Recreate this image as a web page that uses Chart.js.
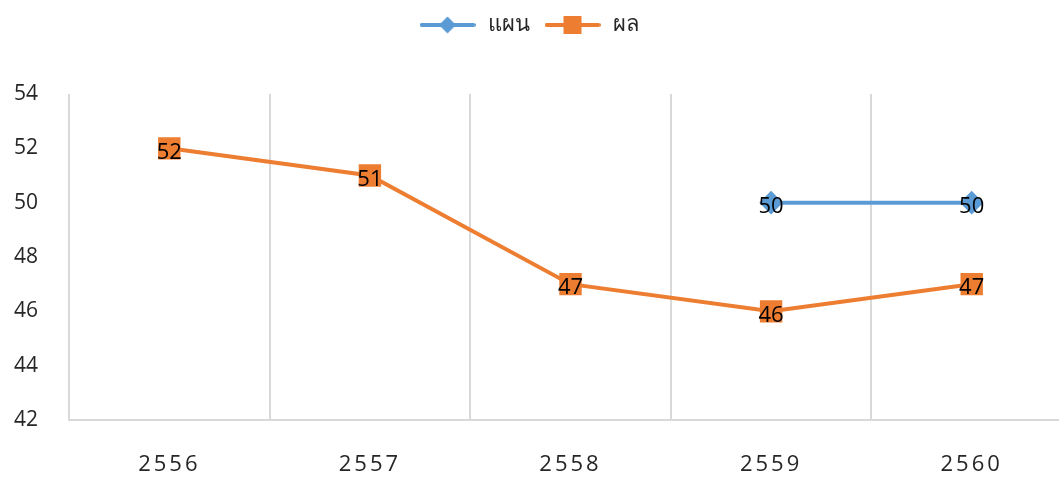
<!DOCTYPE html>
<html><head><meta charset="utf-8">
<script src="https://cdn.jsdelivr.net/npm/chart.js@4/dist/chart.umd.min.js"></script>
<style>html,body{margin:0;padding:0;background:#fff;overflow:hidden}#wrap{width:1059px;height:478px}canvas{display:block}</style>
</head><body><div id="wrap"><canvas id="c" width="1059" height="478"></canvas></div>
<script>
const categories = ['2556', '2557', '2558', '2559', '2560'];
const planValues = [null, null, null, 50, 50];
const resultValues = [52, 51, 47, 46, 47];
const seriesNames = ['แผน', 'ผล'];
const yTicks = [42, 44, 46, 48, 50, 52, 54];

const BLUE = '#5b9bd5', ORANGE = '#ed7d31';
const FONT = "'Open Sans', 'Noto Sans', 'DejaVu Sans', sans-serif";
const PLOT_RIGHT = 1072;

function legendIcon(color, shape) {
  const c = document.createElement('canvas');
  c.width = 56; c.height = 20;
  const x = c.getContext('2d');
  x.strokeStyle = color; x.lineWidth = 4; x.lineCap = 'round';
  x.beginPath(); x.moveTo(2, 10); x.lineTo(54, 10); x.stroke();
  x.fillStyle = color;
  if (shape === 'diamond') {
    x.beginPath(); x.moveTo(28, 1.5); x.lineTo(36.5, 10); x.lineTo(28, 18.5); x.lineTo(19.5, 10); x.closePath(); x.fill();
  } else {
    x.fillRect(19, 1, 18, 18);
  }
  return c;
}
const icons = [legendIcon(BLUE, 'diamond'), legendIcon(ORANGE, 'square')];

const dataLabels = {
  id: 'dataLabels',
  afterDatasetsDraw(chart) {
    const ctx = chart.ctx;
    ctx.save();
    ctx.font = '22px ' + FONT;
    ctx.fillStyle = '#000';
    ctx.textAlign = 'center';
    ctx.textBaseline = 'middle';
    chart.data.datasets.forEach((ds, i) => {
      chart.getDatasetMeta(i).data.forEach((pt, j) => {
        const v = ds.data[j];
        if (v === null || v === undefined) return;
        ctx.fillText(String(v), pt.x, pt.y + 4);
      });
    });
    ctx.restore();
  }
};

const layoutFix = {
  id: 'layoutFix',
  afterInit(chart) {
    const lg = chart.legend;
    const fit = lg.fit;
    lg.fit = function () { fit.call(this); this.height = 94; };
  },
  afterLayout(chart) {
    const s = chart.scales.x;
    // plot area continues past the right edge of the picture, as in the reference
    s.right = PLOT_RIGHT;
    s.width = PLOT_RIGHT - s.left;
    s.configure();
    chart.chartArea.right = PLOT_RIGHT;
    chart.chartArea.width = PLOT_RIGHT - chart.chartArea.left;
    if (s._patched) return;
    const orig = s.drawLabels;
    s.drawLabels = function (area) {
      const ctx = this.ctx;
      ctx.save();
      ctx.letterSpacing = '3px';
      orig.call(this, area);
      ctx.restore();
    };
    s._patched = true;
  }
};

new Chart(document.getElementById('c'), {
  type: 'line',
  data: {
    labels: categories,
    datasets: [
      { label: seriesNames[0], data: planValues, borderColor: BLUE, backgroundColor: BLUE,
        borderWidth: 4, pointStyle: 'rectRot', pointRadius: 9, pointHoverRadius: 9, tension: 0, spanGaps: false },
      { label: seriesNames[1], data: resultValues, borderColor: ORANGE, backgroundColor: ORANGE,
        borderWidth: 4, pointStyle: 'rect', pointRadius: 13, pointHoverRadius: 13, tension: 0 }
    ]
  },
  options: {
    responsive: false,
    animation: false,
    events: [],
    layout: { autoPadding: false, padding: { left: 0, right: 2, top: 0, bottom: 0 } },
    plugins: {
      legend: {
        position: 'top',
        labels: {
          usePointStyle: true,
          pointStyleWidth: 58,
          color: '#262626',
          font: { family: FONT, size: 22 },
          padding: 14,
          generateLabels(chart) {
            return chart.data.datasets.map((ds, i) => ({
              text: ds.label, pointStyle: icons[i], fillStyle: ds.borderColor,
              strokeStyle: ds.borderColor, lineWidth: 0, hidden: false, datasetIndex: i, fontColor: '#262626'
            }));
          }
        }
      },
      tooltip: { enabled: false }
    },
    scales: {
      x: {
        offset: true,
        grid: { display: true, offset: true, color: '#d9d9d9', lineWidth: 2, drawTicks: true, tickLength: 32, tickColor: 'rgba(0,0,0,0)' },
        border: { display: true, color: '#d9d9d9', width: 2 },
        ticks: { color: '#262626', font: { family: FONT, size: 22 }, padding: 0, maxRotation: 0 },
        afterFit(s) { s.height = 58; s.paddingLeft = 0; s.paddingRight = 0; }
      },
      y: {
        min: 42, max: 54,
        afterBuildTicks(s) { s.ticks = yTicks.map(v => ({ value: v })); },
        grid: { display: false, drawTicks: false },
        border: { display: false },
        ticks: { color: '#262626', font: { family: FONT, size: 21 }, padding: 31 },
        afterFit(s) { s.width = 69; }
      }
    }
  },
  plugins: [dataLabels, layoutFix]
});
</script></body></html>
